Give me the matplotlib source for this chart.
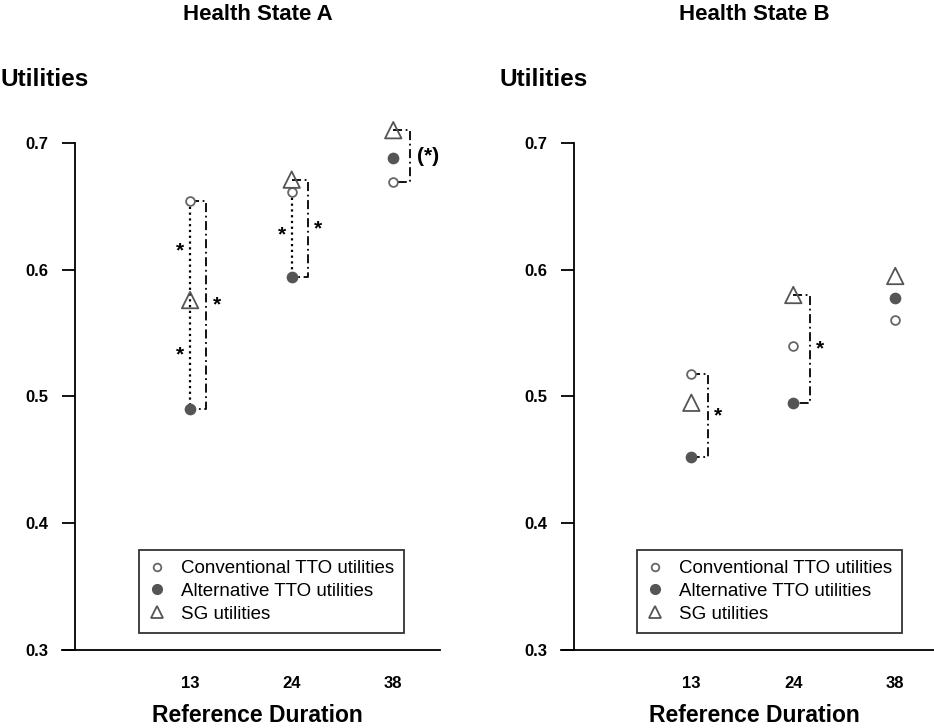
import matplotlib
matplotlib.use("Agg")
import matplotlib.pyplot as plt
from matplotlib.lines import Line2D

plt.rcParams['font.family'] = ['Liberation Sans', 'DejaVu Sans']

durations = ['13', '24', '38']
positions = [1, 2, 3]

# Health State A
a_conv = [0.654, 0.661, 0.669]
a_alt = [0.490, 0.594, 0.688]
a_sg = [0.576, 0.671, 0.710]

# Health State B
b_conv = [0.518, 0.540, 0.560]
b_alt = [0.452, 0.495, 0.578]
b_sg = [0.495, 0.580, 0.595]

yticks = [0.3, 0.4, 0.5, 0.6, 0.7]

W, H = 934, 728
fig = plt.figure(figsize=(W / 100, H / 100), dpi=100)
axA = fig.add_axes([75 / W, 78 / H, 365 / W, 532.5 / H])
axB = fig.add_axes([574 / W, 78 / H, 360 / W, 532.5 / H])

OFF = 0.16  # bracket offset to the right of the markers


def bracket(ax, x, y1, y2):
    ax.plot([x, x + OFF, x + OFF, x], [y1, y1, y2, y2], color='black', lw=1.3,
            dashes=(5, 2, 1, 2), zorder=1)


def dotted(ax, x, y1, y2):
    ax.plot([x, x], [y1, y2], color='black', lw=1.6, ls=(0, (1, 1.6)), zorder=1)


def star(ax, x, y, s='*'):
    ax.text(x, y, s, ha='center', va='center', fontsize=15, fontweight='bold')


def setup(ax, title, xlim):
    ax.set_xlim(*xlim)
    ax.set_ylim(0.3, 0.72)
    for s in ['top', 'right', 'bottom']:
        ax.spines[s].set_visible(False)
    ax.spines['left'].set_bounds(0.3, 0.7)
    ax.spines['left'].set_linewidth(1.3)
    ax.set_yticks(yticks)
    ax.set_yticklabels([f'{v:.1f}' for v in yticks], fontweight='bold', fontsize=12)
    ax.set_xticks(positions)
    ax.set_xticklabels(durations, fontweight='bold', fontsize=12)
    ax.tick_params(axis='y', length=9.5, width=1.3, pad=10)
    ax.tick_params(axis='x', length=0, pad=19)
    # bottom line running from the tick ends to the right edge
    pos = ax.get_position()
    x0 = -9.5 / 72 * 100 / (pos.width * W)
    ax.plot([x0, 1], [0, 0], transform=ax.transAxes, color='black', lw=1.3,
            clip_on=False)
    cx = pos.x0 + pos.width / 2
    fig.text(cx, 1 - 15 / H, title, ha='center', va='center', fontweight='bold',
             fontsize=16)
    fig.text(pos.x0 - 74 / W, 1 - 80 / H, 'Utilities', ha='left', va='center',
             fontweight='bold', fontsize=17.5)
    fig.text(cx, 1 - 716 / H, 'Reference Duration', ha='center', va='center',
             fontweight='bold', fontsize=16.5)


def points(ax, conv, alt, sg):
    ax.scatter(positions, conv, s=40, facecolors='white', edgecolors='#666666',
               linewidths=1.3, zorder=3)
    ax.scatter(positions, alt, s=55, color='#555555', zorder=3)
    ax.scatter(positions, sg, s=140, marker='^', facecolors='none',
               edgecolors='#555555', linewidths=1.3, zorder=3)
    handles = [
        Line2D([], [], ls='none', marker='o', ms=5.5, mfc='white', mec='#666666', mew=1.3),
        Line2D([], [], ls='none', marker='o', ms=7, mfc='#555555', mec='#555555'),
        Line2D([], [], ls='none', marker='^', ms=8, mfc='none', mec='#555555', mew=1.3),
    ]
    leg = ax.legend(handles, ['Conventional TTO utilities', 'Alternative TTO utilities',
                              'SG utilities'],
                    loc='lower left', bbox_to_anchor=(0.175, 0.032), fontsize=13.5,
                    frameon=True, fancybox=False, edgecolor='black',
                    handletextpad=0.88, handlelength=0.8, labelspacing=0.3,
                    borderpad=0.55, borderaxespad=0)
    leg.get_frame().set_linewidth(1.3)


setup(axA, 'Health State A', (-0.133, 3.46))
setup(axB, 'Health State B', (-0.151, 3.38))
points(axA, a_conv, a_alt, a_sg)
points(axB, b_conv, b_alt, b_sg)

# Health State A significance marks
dotted(axA, 1, a_conv[0], a_alt[0])
bracket(axA, 1, a_conv[0], a_alt[0])
star(axA, 1 - 0.1, (a_conv[0] + a_sg[0]) / 2)
star(axA, 1 - 0.1, (a_sg[0] + a_alt[0]) / 2)
star(axA, 1 + 0.26, (a_conv[0] + a_alt[0]) / 2)

dotted(axA, 2, a_conv[1], a_alt[1])
bracket(axA, 2, a_sg[1], a_alt[1])
star(axA, 2 - 0.1, (a_conv[1] + a_alt[1]) / 2)
star(axA, 2 + 0.26, (a_sg[1] + a_alt[1]) / 2)

bracket(axA, 3, a_sg[2], a_conv[2])
star(axA, 3 + 0.34, (a_sg[2] + a_conv[2]) / 2, '(*)')

# Health State B significance marks
bracket(axB, 1, b_conv[0], b_alt[0])
star(axB, 1 + 0.26, (b_conv[0] + b_alt[0]) / 2)
bracket(axB, 2, b_sg[1], b_alt[1])
star(axB, 2 + 0.26, (b_sg[1] + b_alt[1]) / 2)

fig.savefig('out.png', dpi=100)
